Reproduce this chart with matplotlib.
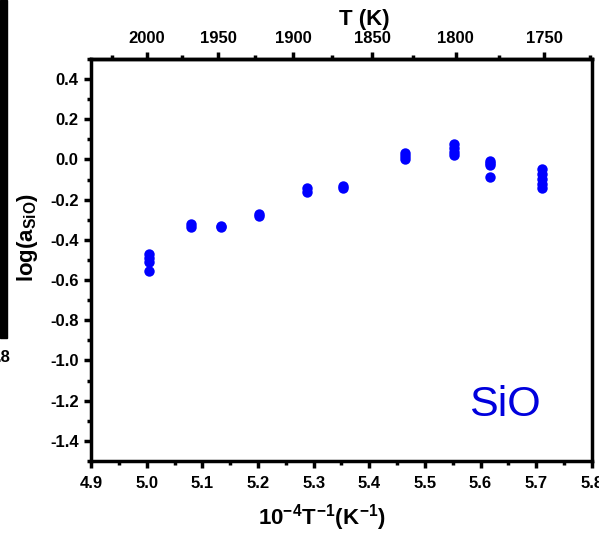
import matplotlib
matplotlib.use('Agg')
import matplotlib.pyplot as plt
import numpy as np
from matplotlib.ticker import MultipleLocator, FixedLocator, FormatStrFormatter
from matplotlib.patches import Rectangle

plt.rcParams['font.family'] = ['Liberation Sans', 'DejaVu Sans']
plt.rcParams['font.weight'] = 'bold'
plt.rcParams['mathtext.fontset'] = 'custom'
plt.rcParams['mathtext.rm'] = 'Liberation Sans:bold'
plt.rcParams['mathtext.bf'] = 'Liberation Sans:bold'
plt.rcParams['mathtext.it'] = 'Liberation Sans:bold'

# inverse temperature groups (1e4/T) and log(a_SiO) values
x_groups = [5.005, 5.079, 5.134, 5.202, 5.289, 5.353, 5.464, 5.552, 5.617, 5.710]
y_groups = [
    [-0.47, -0.49, -0.51, -0.555],
    [-0.32, -0.335],
    [-0.33, -0.335],
    [-0.27, -0.28],
    [-0.14, -0.16],
    [-0.13, -0.14],
    [0.03, 0.015, 0.0],
    [0.075, 0.055, 0.035, 0.02],
    [-0.01, -0.02, -0.03, -0.087],
    [-0.048, -0.07, -0.095, -0.12, -0.14],
]
top_major = [2000, 1950, 1900, 1850, 1800, 1750]
top_minor = [2025, 1975, 1925, 1875, 1825, 1775, 1725]

xs = np.concatenate([[x] * len(ys) for x, ys in zip(x_groups, y_groups)])
ys = np.concatenate(y_groups)

fig = plt.figure(figsize=(5.99, 5.36), dpi=100)
ax = fig.add_axes([0.152, 0.140, 0.836, 0.750])

ax.plot(xs, ys, 'o', color='#0000ff', markersize=7.5, markeredgewidth=0)

ax.set_xlim(4.9, 5.8)
ax.set_ylim(-1.5, 0.5)
ax.xaxis.set_major_locator(MultipleLocator(0.1))
ax.xaxis.set_minor_locator(MultipleLocator(0.05))
ax.yaxis.set_major_locator(MultipleLocator(0.2))
ax.yaxis.set_minor_locator(MultipleLocator(0.1))
ax.xaxis.set_major_formatter(FormatStrFormatter('%.1f'))
ax.yaxis.set_major_formatter(FormatStrFormatter('%.1f'))

for s in ax.spines.values():
    s.set_linewidth(2.5)
ax.tick_params(which='major', direction='out', length=5, width=2.5, labelsize=12)
ax.tick_params(which='minor', direction='out', length=3, width=2.5)
ax.tick_params(axis='x', pad=6)
ax.tick_params(axis='y', pad=4)

ax.set_xlabel(r'$10^{-4}T^{-1}(K^{-1})$', fontsize=16, labelpad=8)
ax.xaxis.label.set_x(0.461)
ax.set_ylabel(r'log(a$_{SiO}$)', fontsize=16, fontweight='bold')
ax.yaxis.set_label_coords(-0.102, 0.557)

top = ax.secondary_xaxis('top', functions=(lambda x: 1e4 / np.maximum(x, 1e-6),
                                          lambda t: 1e4 / np.maximum(t, 1e-6)))
top.xaxis.set_major_locator(FixedLocator(top_major))
top.xaxis.set_minor_locator(FixedLocator(top_minor))
top.spines['top'].set_linewidth(2.5)
top.tick_params(which='major', direction='out', length=5, width=2.5, labelsize=12, pad=4)
top.tick_params(which='minor', direction='out', length=3, width=2.5)
top.set_xlabel('T (K)', fontsize=16, fontweight='bold', labelpad=5)
top.xaxis.label.set_x(0.545)

ax.text(0.826, 0.139, 'SiO', transform=ax.transAxes, color='#0000dd',
        fontsize=31, fontweight='normal', ha='center', va='center')

# cropped bits of the neighbouring panel on the left
fig.patches.append(Rectangle((0, 1 - 338 / 536), 7 / 599, 338 / 536,
                             transform=fig.transFigure, color='black'))
fig.text(-0.006, 1 - 358 / 536, '.8', fontsize=12, fontweight='bold', va='center')

fig.savefig('out.png', dpi=100)
